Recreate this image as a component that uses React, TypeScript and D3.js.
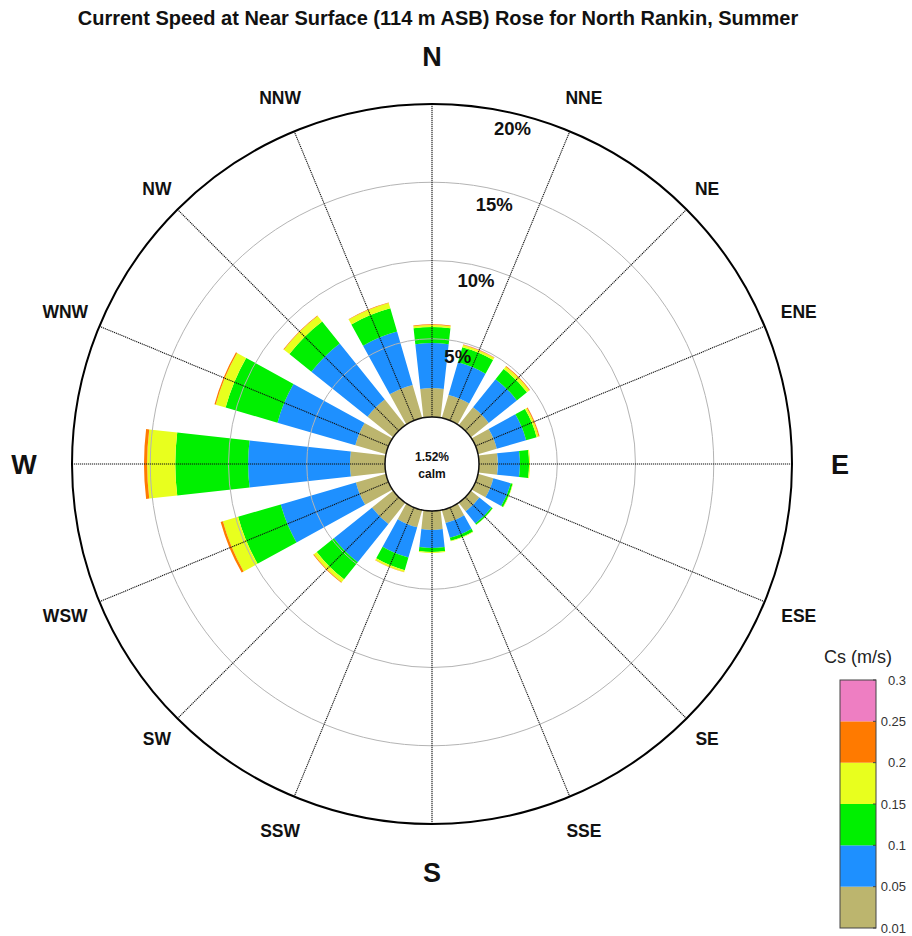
import React from "react";
import * as d3 from "d3";

const directions = ["N","NNE","NE","ENE","E","ESE","SE","SSE","S","SSW","SW","WSW","W","WNW","NW","NNW"];
const speedEdges = ["0.01","0.05","0.1","0.15","0.2","0.25","0.3"];
const binColors = ["#BCB56E","#1E90FF","#00F000","#E8FF1E","#FF7A00","#EE7EC2"];

// percent of time per direction, per speed bin
const bin0105 = [1.85,1.53,1.47,1.25,1.21,1.02,0.7,0.86,1.21,1.15,1.73,2.0,2.24,2.04,2.1,2.2];
const bin0510 = [2.88,2.17,2.3,1.95,1.41,1.15,1.0,0.99,1.15,2.01,3.13,5.0,6.51,5.18,4.6,3.55];
const bin1015 = [1.02,1.0,0.83,0.7,0.58,0.13,0.09,0.19,0.26,0.84,1.4,2.84,4.65,3.45,1.8,1.55];
const bin1520 = [0.13,0.16,0.19,0.13,0.06,0.03,0.02,0.04,0.06,0.12,0.24,1.01,1.8,0.66,0.45,0.35];
const bin2025 = [0.04,0.03,0.05,0.06,0,0,0,0,0,0.02,0.05,0.15,0.2,0.08,0.04,0.03];
const bin2530 = [0,0.01,0.01,0.01,0,0,0,0,0,0,0,0,0,0,0,0];
const seriesBins = [bin0105, bin0510, bin1015, bin1520, bin2025, bin2530];

const ringTicks = [5, 10, 15, 20];
const calmText = "1.52%";
const title = "Current Speed at Near Surface (114 m ASB) Rose for North Rankin, Summer";

const W = 912, H = 936;
const cx = 432, cy = 464;
const rCalm = 47, rOuter = 360;
const FONT = "Arial, 'Liberation Sans', Helvetica, sans-serif";

export default function App() {
  const r = d3.scaleLinear().domain([0, 20]).range([rCalm, rOuter]);
  const angle = d3.scaleLinear().domain([0, directions.length]).range([0, 360]);

  const a0 = 3.5, k = 0.11;
  const pt = (theta: number, R: number, side: number) => {
    const t = (-a0 * k + Math.sqrt(a0 * a0 * k * k - (1 + k * k) * (a0 * a0 - R * R))) / (1 + k * k);
    const ux = Math.sin(theta), uy = -Math.cos(theta);
    const nx = Math.cos(theta), ny = Math.sin(theta);
    const w = (a0 + k * t) * side;
    return [cx + t * ux + w * nx, cy + t * uy + w * ny];
  };
  const segPath = (theta: number, R0: number, R1: number) => {
    const p1 = pt(theta, R0, -1), p2 = pt(theta, R1, -1), p3 = pt(theta, R1, 1), p4 = pt(theta, R0, 1);
    return `M${p1[0]},${p1[1]}L${p2[0]},${p2[1]}A${R1},${R1} 0 0 1 ${p3[0]},${p3[1]}L${p4[0]},${p4[1]}A${R0},${R0} 0 0 0 ${p1[0]},${p1[1]}Z`;
  };

  const bars: any[] = [];
  directions.forEach((d, i) => {
    const theta = (angle(i) * Math.PI) / 180;
    let cum = 0;
    seriesBins.forEach((s, b) => {
      const v = s[i];
      if (v > 0) {
        bars.push(<path key={`${d}-${b}`} d={segPath(theta, r(cum), r(cum + v))} fill={binColors[b]} />);
      }
      cum += v;
    });
  });

  const cbX = 840, cbW = 36, cbTop = 680, cbBot = 928;
  const cbScale = d3.scaleLinear().domain([0, speedEdges.length - 1]).range([cbBot, cbTop]);

  return (
    <svg width={W} height={H} style={{ position: "absolute", left: 0, top: 0, background: "#fff" }} fontFamily={FONT}>
      <rect x={0} y={0} width={W} height={H} fill="#fff" />
      <text x={438} y={25} textAnchor="middle" fontSize={20} fontWeight="bold" fill="#111">{title}</text>
      <circle cx={cx} cy={cy} r={rOuter} fill="#fff" />
      {bars}
      {ringTicks.slice(0, -1).map(t => (
        <circle key={t} cx={cx} cy={cy} r={r(t)} fill="none" stroke="#b4b4b4" strokeWidth={1} />
      ))}
      {directions.map((d, i) => {
        const th = (angle(i) * Math.PI) / 180;
        return (
          <line key={d} x1={cx + rCalm * Math.sin(th)} y1={cy - rCalm * Math.cos(th)}
            x2={cx + rOuter * Math.sin(th)} y2={cy - rOuter * Math.cos(th)}
            stroke="#111" strokeWidth={1.1} strokeDasharray="1.2 0.8" />
        );
      })}
      <circle cx={cx} cy={cy} r={rOuter} fill="none" stroke="#000" strokeWidth={2} />
      <circle cx={cx} cy={cy} r={rCalm} fill="#fff" stroke="#111" strokeWidth={1.5} />
      <text x={cx} y={cy - 3} textAnchor="middle" fontSize={12} fontWeight="bold" fill="#111">{calmText}</text>
      <text x={cx} y={cy + 14} textAnchor="middle" fontSize={12} fontWeight="bold" fill="#111">calm</text>
      {ringTicks.map(t => {
        const th = (13.5 * Math.PI) / 180;
        const rr = r(t) - 15;
        return (
          <text key={t} x={cx + rr * Math.sin(th)} y={cy - rr * Math.cos(th)} dy="0.36em" textAnchor="middle"
            fontSize={18.5} fontWeight="bold" fill="#111">{`${t}%`}</text>
        );
      })}
      {directions.map((d, i) => {
        const deg = angle(i);
        const th = (deg * Math.PI) / 180;
        const major = deg % 90 === 0;
        const diag = deg % 90 === 45;
        const rr = major ? 408 : diag ? 389 : 397;
        return (
          <text key={d} x={cx + rr * Math.sin(th)} y={cy - rr * Math.cos(th)} dy="0.36em" textAnchor="middle"
            fontSize={major ? 27 : 17.5} fontWeight="bold" fill="#111">{d}</text>
        );
      })}
      <text x={cbX + cbW / 2} y={663} textAnchor="middle" fontSize={18} fill="#222">Cs (m/s)</text>
      {binColors.map((c, b) => (
        <rect key={c} x={cbX} y={cbScale(b + 1)} width={cbW} height={cbScale(b) - cbScale(b + 1)} fill={c} />
      ))}
      <rect x={cbX} y={cbTop} width={cbW} height={cbBot - cbTop} fill="none" stroke="#444" strokeWidth={1} />
      {speedEdges.map((s, b) => (
        <g key={s}>
          <line x1={cbX + cbW - 3} x2={cbX + cbW} y1={cbScale(b)} y2={cbScale(b)} stroke="#444" />
          <text x={906} y={cbScale(b)} dy="0.36em" textAnchor="end" fontSize={13} fill="#333">{s}</text>
        </g>
      ))}
    </svg>
  );
}
